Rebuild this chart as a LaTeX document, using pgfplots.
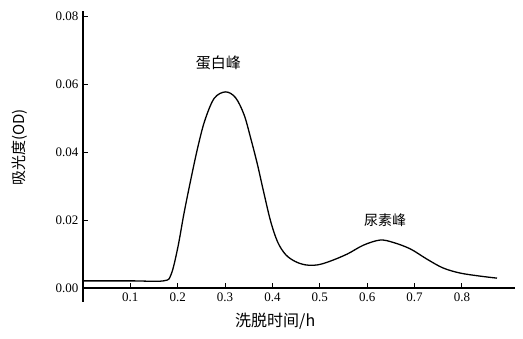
\documentclass[border=0pt]{standalone}
\usepackage{pgfplots}
\pgfplotsset{compat=1.18}
\usepackage{fontspec}
\setmainfont{Liberation Serif}
\newfontfamily\cjk{Noto Sans CJK SC}
\begin{document}
\begin{tikzpicture}
\begin{axis}[
  scale only axis,
  width=432pt, height=277pt,
  xmin=0, xmax=0.912, ymin=0, ymax=0.0815,
  axis lines=left,
  axis line style={-, line width=1.2pt},
  xtick={0.1,0.2,0.3,0.4,0.5,0.6,0.7,0.8},
  xticklabels={0.1,0.2,0.3,0.4,0.5,0.6,0.7,0.8},
  ytick={0,0.02,0.04,0.06,0.08},
  scaled y ticks=false,
  yticklabel style={/pgf/number format/fixed, /pgf/number format/fixed zerofill, /pgf/number format/precision=2},
  /pgf/number format/assume math mode=true,
  tick style={black, line width=1pt},
  tick align=inside,
  major tick length=5pt,
  tick label style={font=\fontsize{13}{15}\selectfont},
  xticklabel style={yshift=-1pt},
  yticklabel style={xshift=-1pt},
  xlabel={\cjk 洗脱时间/h},
  ylabel={\cjk 吸光度(OD)},
  xlabel style={font=\fontsize{16}{18}\selectfont, at={(axis description cs:0.445,0)}, anchor=north, yshift=-22pt},
  ylabel style={font=\fontsize{15}{17}\selectfont, at={(axis description cs:0,0.507)}, anchor=south, xshift=0pt, yshift=52pt},
  clip=false,
]
\addplot[black, line width=1.3pt, smooth, tension=0.55] coordinates {
(0,0.0021) (0.10,0.0021) (0.17,0.0021) (0.186,0.0040) (0.200,0.0118) (0.213,0.0218) (0.227,0.0315) (0.242,0.0412) (0.257,0.0492) (0.277,0.0558) (0.301,0.0577) (0.322,0.0560) (0.340,0.0510) (0.354,0.0441) (0.368,0.0365) (0.381,0.0285) (0.396,0.0197) (0.411,0.0135) (0.428,0.0098) (0.448,0.0078) (0.470,0.0068) (0.495,0.0068) (0.522,0.0079) (0.558,0.0100) (0.592,0.0126) (0.627,0.0141) (0.655,0.0134) (0.691,0.0115) (0.726,0.0085) (0.760,0.0059) (0.796,0.0044) (0.838,0.0035) (0.874,0.0029)
};
\node[font=\cjk\fontsize{15}{17}\selectfont] at (axis cs:0.286,0.0662) {蛋白峰};
\node[font=\cjk\fontsize{14}{16}\selectfont] at (axis cs:0.638,0.0200) {尿素峰};
\draw[line width=1.2pt] (rel axis cs:0,0) -- ++(0,-14pt);
\end{axis}
\path (current axis.south west) ++(-83pt,-51pt) rectangle ++(523pt,339pt);
\end{tikzpicture}
\end{document}
